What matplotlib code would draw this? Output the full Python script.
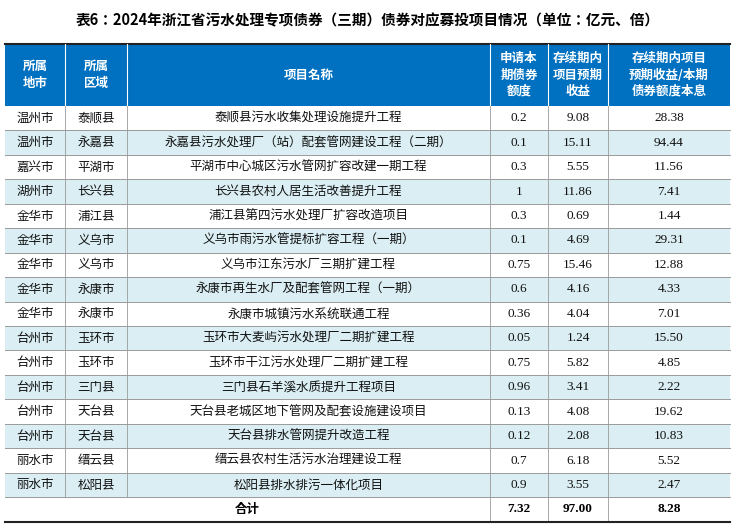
import matplotlib.pyplot as plt
from matplotlib.patches import Rectangle

CITIES = ["温州市", "温州市", "嘉兴市", "湖州市", "金华市", "金华市", "金华市", "金华市", "金华市",
          "台州市", "台州市", "台州市", "台州市", "台州市", "丽水市", "丽水市"]
DISTRICTS = ["泰顺县", "永嘉县", "平湖市", "长兴县", "浦江县", "义乌市", "义乌市", "永康市", "永康市",
             "玉环市", "玉环市", "三门县", "天台县", "天台县", "缙云县", "松阳县"]
PROJECTS = ["泰顺县污水收集处理设施提升工程", "永嘉县污水处理厂（站）配套管网建设工程（二期）",
            "平湖市中心城区污水管网扩容改建一期工程", "长兴县农村人居生活改善提升工程",
            "浦江县第四污水处理厂扩容改造项目", "义乌市雨污水管提标扩容工程（一期）",
            "义乌市江东污水厂三期扩建工程", "永康市再生水厂及配套管网工程（一期）",
            "永康市城镇污水系统联通工程", "玉环市大麦屿污水处理厂二期扩建工程",
            "玉环市干江污水处理厂二期扩建工程", "三门县石羊溪水质提升工程项目",
            "天台县老城区地下管网及配套设施建设项目", "天台县排水管网提升改造工程",
            "缙云县农村生活污水治理建设工程", "松阳县排水排污一体化项目"]
AMOUNT = ["0.2", "0.1", "0.3", "1", "0.3", "0.1", "0.75", "0.6", "0.36", "0.05", "0.75", "0.96",
          "0.13", "0.12", "0.7", "0.9"]
REVENUE = ["9.08", "15.11", "5.55", "11.86", "0.69", "4.69", "15.46", "4.16", "4.04", "1.24", "5.82",
           "3.41", "4.08", "2.08", "6.18", "3.55"]
RATIO = ["28.38", "94.44", "11.56", "7.41", "1.44", "29.31", "12.88", "4.33", "7.01", "15.50", "4.85",
         "2.22", "19.62", "10.83", "5.52", "2.47"]
TOTAL = ["7.32", "97.00", "8.28"]
HEADERS = ["所属\n地市", "所属\n区域", "项目名称", "申请本\n期债券\n额度", "存续期内\n项目预期\n收益",
           "存续期内项目\n预期收益/本期\n债券额度本息"]
TITLE = "表6：2024年浙江省污水处理专项债券（三期）债券对应募投项目情况（单位：亿元、倍）"

CJK = ["Noto Sans CJK SC", "Noto Sans CJK JP", "Noto Sans CJK TC", "DejaVu Sans"]
NUM = ["Liberation Serif", "DejaVu Serif"]
plt.rcParams["font.family"] = CJK
BLUE = "#0070C0"
LIGHT = "#DAEEF3"

cols = [5, 65, 127, 490, 548, 608, 730]
head_top, head_bot = 44, 106
row_h = 24.45
n = len(CITIES)

fig = plt.figure(figsize=(7.37, 5.24), dpi=100)
ax = fig.add_axes([0, 0, 1, 1])
ax.set_xlim(0, 737)
ax.set_ylim(524, 0)
ax.axis("off")

ax.text(368, 20, TITLE, ha="center", va="center", fontsize=10.5, fontweight="bold", fontfamily=CJK)

# header
ax.add_patch(Rectangle((cols[0], head_top), cols[-1] - cols[0], head_bot - head_top, color=BLUE, lw=0))
ax.plot([cols[0], cols[-1]], [head_top, head_top], color="#222222", lw=1.5)
for i, h in enumerate(HEADERS):
    cx = (cols[i] + cols[i + 1]) / 2
    ax.text(cx, (head_top + head_bot) / 2, h, ha="center", va="center", color="white", fontsize=9,
            fontweight="bold", fontfamily=CJK, linespacing=1.35)
for x in cols[1:-1]:
    ax.plot([x, x], [head_top, head_bot], color="white", lw=0.8)

# body
for r in range(n):
    y0 = head_bot + r * row_h
    if r % 2 == 1:
        ax.add_patch(Rectangle((cols[0], y0), cols[-1] - cols[0], row_h, color=LIGHT, lw=0))
    yc = y0 + row_h / 2
    vals = [CITIES[r], DISTRICTS[r], PROJECTS[r], AMOUNT[r], REVENUE[r], RATIO[r]]
    for i, v in enumerate(vals):
        cx = (cols[i] + cols[i + 1]) / 2
        ax.text(cx, yc, v, ha="center", va="center", fontsize=9.5 if i >= 3 else 9,
                fontfamily=NUM if i >= 3 else CJK, color="#111111")
    ax.plot([cols[0], cols[-1]], [y0 + row_h, y0 + row_h], color="#9a9a9a", lw=0.7)
    for x in cols[1:-1]:
        ax.plot([x, x], [y0, y0 + row_h], color="#9a9a9a", lw=0.6)

# total row
y0 = head_bot + n * row_h
yc = y0 + row_h / 2
ax.text((cols[0] + cols[3]) / 2, yc, "合计", ha="center", va="center", fontsize=9, fontweight="bold",
        fontfamily=CJK)
for i, v in enumerate(TOTAL):
    cx = (cols[3 + i] + cols[4 + i]) / 2
    ax.text(cx, yc, v, ha="center", va="center", fontsize=9.5, fontweight="bold", fontfamily=NUM)
for x in cols[3:-1]:
    ax.plot([x, x], [y0, y0 + row_h], color="#9a9a9a", lw=0.6)
ax.plot([cols[0], cols[-1]], [y0 + row_h, y0 + row_h], color="#222222", lw=1.5)

fig.savefig("out.png", dpi=100)
